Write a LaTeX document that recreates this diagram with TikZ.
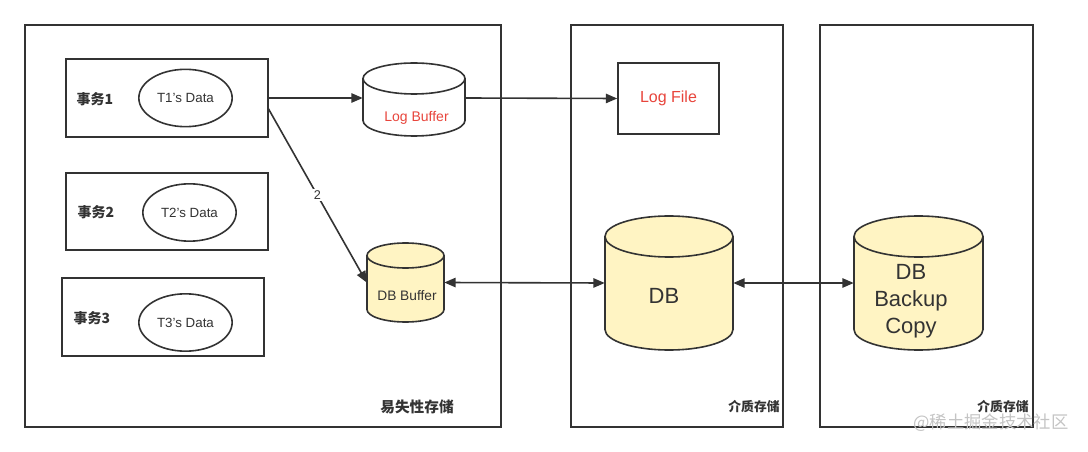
\documentclass[tikz,border=0pt]{standalone}
\usepackage{fontspec}
\setmainfont{Liberation Sans}
\newfontfamily\cjk{Noto Sans CJK SC}
\usetikzlibrary{arrows.meta,shapes.geometric}
\definecolor{ink}{HTML}{333333}
\definecolor{cylfill}{HTML}{FFF4C3}
\definecolor{redtxt}{HTML}{E8453C}
\definecolor{wm}{HTML}{C4C4C4}
\tikzset{
  line/.style={draw=ink, line width=1.2pt},
  box/.style={line, rectangle, inner sep=0pt},
  ell/.style={line, ellipse, inner sep=0pt, minimum width=70pt, minimum height=43pt},
  anchorbox/.style={rectangle, inner sep=0pt, draw=none},
  arr/.style={line, -{Triangle[length=8.5pt,width=7pt]}},
  darr/.style={line, {Triangle[length=8.5pt,width=7pt]}-{Triangle[length=8.5pt,width=7pt]}},
  txt/.style={text=ink, inner sep=0pt},
}
\newcommand\drawcyl[6]{%
  \pgfmathsetmacro\cylrx{(#3-#1)/2*0.75}%
  \pgfmathsetmacro\cylry{#5*0.75}%
  \draw[line, fill=#6] (#1,#2+#5) -- (#1,#4-#5)
     arc[start angle=180, end angle=360, x radius=\cylrx pt, y radius=\cylry pt]
     -- (#3,#2+#5)
     arc[start angle=0, end angle=180, x radius=\cylrx pt, y radius=\cylry pt] -- cycle;
  \draw[line] (#1,#2+#5) arc[start angle=180, end angle=360, x radius=\cylrx pt, y radius=\cylry pt];
}
\begin{document}
\begin{tikzpicture}[x=0.75pt, y=-0.75pt]
\useasboundingbox[fill=white] (0,0) rectangle (1088,452);

% storage areas
\node[box, minimum width=357pt, minimum height=301.5pt] (volatile) at (263,226) {};
\node[box, minimum width=159pt, minimum height=301.5pt] (media1) at (677,226) {};
\node[box, minimum width=159.75pt, minimum height=301.5pt] (media2) at (926.5,226) {};

% transactions
\node[box, minimum width=151.5pt, minimum height=58.5pt] (t1) at (167,98) {};
\node[box, minimum width=151.5pt, minimum height=57.75pt] (t2) at (167,211.5) {};
\node[box, minimum width=151.5pt, minimum height=58.5pt] (t3) at (163,317) {};
\node[txt, font=\cjk\bfseries\fontsize{10.5}{12}\selectfont] (t1lbl) at (95,99) {事务1};
\node[txt, font=\cjk\bfseries\fontsize{10.5}{12}\selectfont] (t2lbl) at (96,212) {事务2};
\node[txt, font=\cjk\bfseries\fontsize{10.5}{12}\selectfont] (t3lbl) at (92,318) {事务3};
\node[ell, font=\fontsize{10}{12}\selectfont, text=ink] (d1) at (185.5,98) {T1's Data};
\node[ell, font=\fontsize{10}{12}\selectfont, text=ink] (d2) at (189.5,212.5) {T2's Data};
\node[ell, font=\fontsize{10}{12}\selectfont, text=ink] (d3) at (185.5,322.5) {T3's Data};

% cylinders
\drawcyl{363}{63}{465}{136}{15.5}{white}
\node[anchorbox, minimum width=76.5pt, minimum height=54.75pt] (logbuf) at (414,99.5) {};
\node[txt, text=redtxt, font=\fontsize{10.5}{12}\selectfont] (logbuftxt) at (416.5,117.5) {Log Buffer};

\drawcyl{367}{243}{444}{322}{12.5}{cylfill}
\node[anchorbox, minimum width=57.75pt, minimum height=59.25pt] (dbbuf) at (405.5,282.5) {};
\node[txt, font=\fontsize{10.3}{12}\selectfont] (dbbuftxt) at (407,295.5) {DB Buffer};

\drawcyl{605}{216}{733}{350}{20.5}{cylfill}
\node[anchorbox, minimum width=96pt, minimum height=100.5pt] (db) at (669,283) {};
\node[txt, font=\fontsize{16.5}{20}\selectfont] (dbtxt) at (664,296) {DB};

\drawcyl{854}{216}{983}{350}{20.5}{cylfill}
\node[anchorbox, minimum width=96.75pt, minimum height=100.5pt] (backup) at (918.5,283) {};
\node[txt, font=\fontsize{16.5}{20.3}\selectfont, align=center] (backuptxt) at (911,301) {DB\\Backup\\Copy};

% log file
\node[box, minimum width=75.75pt, minimum height=53.25pt, text=redtxt, font=\fontsize{12}{14}\selectfont] (logfile) at (668.5,98.5) {Log File};

% connectors
\coordinate (t1out) at (268,108);
\draw[arr] (t1.east) -- (t1.east -| logbuf.west);
\draw[arr] (logbuf.east |- t1.east) -- (logfile.west);
\draw[arr] (t1out) -- node[pos=0.5, fill=white, inner sep=1pt, text=ink, font=\fontsize{9.5}{11}\selectfont] (lbl2) {2} (dbbuf.west);
\draw[darr] (dbbuf.east) -- (db.west);
\draw[darr] (db.east) -- (backup.west);

% area labels
\node[txt, font=\cjk\bfseries\fontsize{11}{13}\selectfont] (vollbl) at (417,407) {易失性存储};
\node[txt, font=\cjk\bfseries\fontsize{9.6}{11}\selectfont] (m1lbl) at (754,407) {介质存储};
\node[txt, font=\cjk\bfseries\fontsize{9.6}{11}\selectfont] (m2lbl) at (1003,407) {介质存储};

% watermark
\node[txt, text=wm, font=\cjk\fontsize{13}{15}\selectfont] (wmark) at (991,423) {@稀土掘金技术社区};
\end{tikzpicture}
\end{document}
